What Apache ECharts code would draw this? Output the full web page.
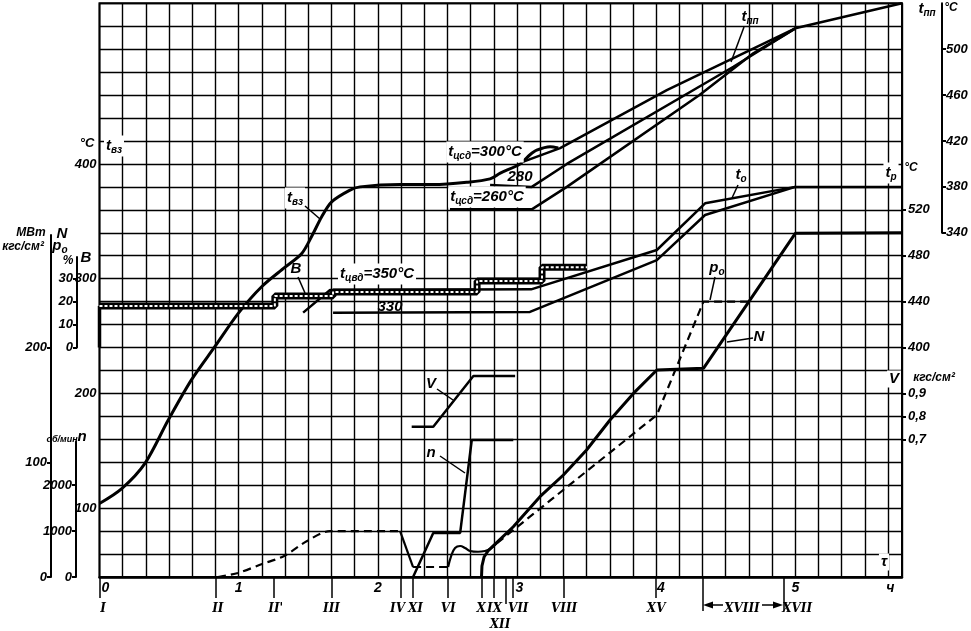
<!DOCTYPE html>
<html><head><meta charset="utf-8">
<script src="https://cdn.jsdelivr.net/npm/echarts@6/dist/echarts.min.js"></script>
<style>html,body{margin:0;padding:0;background:#fff}#c{width:971px;height:631px}</style>
</head><body><div id="c"></div>
<script>
// ---------- DATA (time in minutes from start) ----------
const hourLabels = ['0','1','2','3','4','5','ч'];
const hourLabelAt = [2.5,60,120,181,242,300,341];
const romanNames = ['I','II',"II'",'III','IV','XI','VI','X','IX','VII','VIII','XV','XVIII','XVII'];
const romanLabelAt = [1.5,51,76,100,128.5,136.2,150.3,164.5,170.3,180.5,200.3,240,277,300.8];
const romanTickAt = [0,50,75,100,130,135,150,165,170,178,200,240];
const romanLowNames = ['XII'];
const romanLowLabelAt = [172.7];
const romanLowTickAt = [175];
const bracketTickAt = [260,295];

// t_вз, °C
const tVzT = [0,9.6,19.6,29.7,39.7,49.8,59.9,69.9,80,87.2,91.5,95.8,100.1,107.8,112.3,129.6,144,158.3,168.4,172.8,181.3,185.6,188.5,194.3,197.8];
const tVzV = [104,117,139,177,212,241,270,293,310,322,337,354,367,377,380,382,382,384,387,392,400,408,412,415,414];
// t_пп, °C  (t_цсд = 300 / 280 / 260 °C)
const tPp300T = [182.2,198.6,244.6,300,346];
const tPp300V = [401.6,413.8,464.4,518.2,540];
const tPp280T = [168.4,186.4,201.5,273.3,300];
const tPp280V = [381.6,380,400,484.7,518.2];
const tPp260T = [151.1,186.4,201.5,258.7,281.9,300];
const tPp260V = [360.4,360.4,380,460,496.4,518.2];
// t_o, °C  (t_цвд = 350 / 330 °C)
const tO350T = [87.8,99.4,186.1,240.3,261.1,300,346];
const tO350V = [430.4,450.2,450.7,485,525.7,540,540];
const tO330T = [100.7,185.6,240.3,261.1,300];
const tO330V = [430.3,431,476.2,515.5,540];
// B, %
const bT = [0,75.6,75.6,100.7,100.7,162.8,162.8,190.8,190.8,210.2];
const bV = [18.1,18.1,22.4,22.4,24.2,24.2,29,29,35,35];
const bStartT = [0,0];
const bStartV = [0,18.1];
// V, кгс/см²
const vT = [134.6,143.9,161.2,179.2];
const vV = [0.755,0.755,0.976,0.976];
// n, об/мин
const nT = [135.2,143.9,155.5,160.5,178.4];
const nV = [0,960,960,2985,2985];
// p_o, кгс/см² (dashed / solid pieces)
const p1T = [51.1,59.7,70.1,79.6,89.5,99.4,128.7];
const p1V = [0,3.5,11.3,18.3,31.4,40,40];
const p2T = [129.6,135.2];
const p2V = [40,8.7];
const p3T = [135.2,150.3];
const p3V = [8.7,8.7];
const p4T = [150.3,151.6,153.3,155.5,157.6,159.8,163.2,166.2,168.4,171.4];
const p4V = [8.7,18.3,25.3,27,25.3,22.7,22,22.7,24.4,29.6];
const p5T = [171.4,240.3,260.4,280.5];
const p5V = [29.6,141.2,240,240];
// N, МВт
const NT = [164.7,164.9,165.8,167.5,178.4,189.9,200,210,220.1,230.2,240.3,260.4,300,346];
const NV = [0,9.6,17.4,22.7,43.8,70,88.9,110.7,136.8,160,180.4,181.9,299.5,300];

// axis tick labels
const tVzTicks = [100,200,300,400];
const tPpTicks = [340,380,420,460,500];
const tRTicks = [400,440,480,520];
const vTicks = [0.7,0.8,0.9];
const NTicks = [0,100,200];
const bTicks = [0,10,20,30];
const nTicks = [0,1000,2000];

// ---------- LAYOUT ----------
const GL=99.5, GT=3.3, GW=802.5, GH=573.7, GB=GT+GH, ROWH=GH/25;
const py = r => GB - r*ROWH;
const zip = (a,b) => a.map((t,i)=>[t,b[i]]);
const F = 'Liberation Sans';
const lab = {fontFamily:F, fontStyle:'italic', fontWeight:'bold', fontSize:13, color:'#000'};
const romanLab = {fontFamily:'DejaVu Serif', fontStyle:'italic', fontWeight:'bold', fontSize:12, color:'#000'};

function L(data, yi, w, extra){
  return Object.assign({type:'line', data, xAxisIndex:0, yAxisIndex:yi, symbol:'none', silent:true,
    lineStyle:{color:'#000', width:w}, z:3}, extra||{});
}
const dash = [8,5];

const rich = {
  i:{fontFamily:F, fontStyle:'italic', fontWeight:'bold', fontSize:15, fill:'#000'},
  s:{fontFamily:F, fontStyle:'italic', fontWeight:'bold', fontSize:10, fill:'#000', padding:[9,0,0,0]}
};
function T(text, x, y, bg, size){
  const st = {text, x:0, y:0, rich, align:'center', verticalAlign:'middle', fill:'#000',
    font:'italic bold '+(size||15)+'px '+F};
  if(bg){ st.backgroundColor='#fff'; st.padding=[1,2,1,2]; }
  return {type:'text', x, y, z:100, style:st, silent:true};
}
function Ln(x1,y1,x2,y2){ return {type:'line', z:100, shape:{x1,y1,x2,y2}, style:{stroke:'#000', lineWidth:1.5}, silent:true}; }

const hidX = i => ({type:'value', gridIndex:i, min:0, max:1, show:false});
const dispY = (gi, min, max, pos, ticks, fmt) => ({
  type:'value', gridIndex:gi, min, max, position:pos,
  axisLine:{show:true, onZero:false, lineStyle:{color:'#000', width:2}},
  axisTick:{show:true, customValues:ticks, length:4, lineStyle:{color:'#000', width:2}},
  axisLabel:Object.assign({customValues:ticks, margin:4, formatter:fmt||(v=>String(v))}, lab),
  splitLine:{show:false}
});
const romanX = (ticks, len, labels, labelAt, margin) => ({
  type:'value', gridIndex:0, min:0, max:346, position:'bottom',
  axisLine:{show:false, onZero:false}, splitLine:{show:false},
  axisTick:{show:true, customValues:ticks, length:len, lineStyle:{color:'#000', width:1.5}},
  axisLabel: labels ? Object.assign({customValues:labelAt, margin,
    formatter:v=>labels[labelAt.indexOf(v)]}, romanLab) : {show:false}
});

const option = {
  animation:false,
  backgroundColor:'#fff',
  grid:[
    {left:GL, top:GT, width:GW, height:GH, show:true, borderColor:'#000', borderWidth:2},
    {left:941, top:GT, width:1, height:py(15)-GT},
    {left:51, top:py(14.9), width:1, height:GB-py(14.9)},
    {left:77, top:py(13.95), width:1, height:py(10)-py(13.95)},
    {left:76, top:py(5.9), width:1, height:GB-py(5.9)}
  ],
  xAxis:[
    {type:'value', gridIndex:0, min:0, max:346, interval:10,
      axisLine:{show:true, onZero:false, lineStyle:{color:'#000', width:2.5}}, axisTick:{show:false},
      splitLine:{show:true, lineStyle:{color:'#000', width:1.4}},
      axisLabel:Object.assign({customValues:hourLabelAt, margin:4,
        formatter:v=>hourLabels[hourLabelAt.indexOf(v)]}, lab, {fontSize:14})},
    romanX(romanTickAt, 21, romanNames, romanLabelAt, 26),
    romanX(romanLowTickAt, 27, romanLowNames, romanLowLabelAt, 42),
    romanX(bracketTickAt, 34, null),
    hidX(1), hidX(2), hidX(3), hidX(4)
  ],
  yAxis:[
    {type:'value', gridIndex:0, min:0, max:25, interval:1, axisLine:{show:false, onZero:false}, axisTick:{show:false},
      axisLabel:{show:false}, splitLine:{show:true, lineStyle:{color:'#000', width:1.4}}},
    {type:'value', gridIndex:0, min:40, max:540, position:'left', axisLine:{show:false, onZero:false}, axisTick:{show:false},
      splitLine:{show:false}, axisLabel:Object.assign({customValues:tVzTicks, margin:3}, lab)},
    {type:'value', gridIndex:0, min:0, max:500, show:false, axisLine:{onZero:false}},
    {type:'value', gridIndex:0, min:-100, max:150, show:false, axisLine:{onZero:false}},
    {type:'value', gridIndex:0, min:0, max:12500, show:false, axisLine:{onZero:false}},
    {type:'value', gridIndex:0, min:40, max:540, show:false, axisLine:{onZero:false}},
    {type:'value', gridIndex:0, min:200, max:700, position:'right', axisLine:{show:false, onZero:false},
      axisTick:{show:true, customValues:tRTicks, length:4, lineStyle:{color:'#000', width:2}},
      splitLine:{show:false}, axisLabel:Object.assign({customValues:tRTicks, margin:6}, lab)},
    {type:'value', gridIndex:0, min:0.1, max:2.6, position:'right', axisLine:{show:false, onZero:false},
      axisTick:{show:true, customValues:vTicks, length:4, lineStyle:{color:'#000', width:2}},
      splitLine:{show:false}, axisLabel:Object.assign({customValues:vTicks, margin:6,
        formatter:v=>v.toFixed(1).replace('.',',')}, lab)},
    dispY(1, 340, 540, 'right', tPpTicks),
    dispY(2, 0, 298, 'left', NTicks),
    dispY(3, 0, 39.5, 'left', bTicks),
    dispY(4, 0, 2950, 'left', nTicks)
  ],
  series:[
    L(zip(bT,bV), 3, 7),
    L(zip(bT,bV), 3, 2, {lineStyle:{color:'#fff', width:2, type:[3,2]}, z:4}),
    L(zip(bStartT,bStartV), 3, 3.5),
    L(zip(tVzT,tVzV), 1, 3, {smooth:0.3}),
    L(zip(tPp300T,tPp300V), 5, 2.5),
    L(zip(tPp280T,tPp280V), 5, 2.5),
    L(zip(tPp260T,tPp260V), 5, 2.5),
    L(zip(tO350T,tO350V), 6, 2.5),
    L(zip(tO330T,tO330V), 6, 2.5),
    L(zip(vT,vV), 7, 2.5),
    L(zip(nT,nV), 4, 2.5),
    L(zip(p1T,p1V), 2, 2.2, {lineStyle:{color:'#000', width:2.2, type:dash}, smooth:0.3}),
    L(zip(p2T,p2V), 2, 2.2),
    L(zip(p3T,p3V), 2, 2.2, {lineStyle:{color:'#000', width:2.2, type:dash}}),
    L(zip(p4T,p4V), 2, 2.2, {smooth:0.4}),
    L(zip(p5T,p5V), 2, 2.2, {lineStyle:{color:'#000', width:2.2, type:dash}}),
    L(zip(NT,NV), 2, 3)
  ],
  graphic:[
    T('°C', 87, 143, false, 13),
    T('{i|t}{s|вз}', 114, 146, true),
    T('{i|t}{s|вз}', 295, 198, true),
    Ln(305,206,320,219),
    T('{i|B}', 296, 269, false),
    Ln(298,277,305,293),
    T('{i|t}{s|цвд}{i|=350°C}', 377, 274, true),
    T('{i|330}', 390, 307, false),
    T('{i|t}{s|цсд}{i|=300°C}', 485, 152, true),
    T('{i|280}', 520, 177, false),
    T('{i|t}{s|цсд}{i|=260°C}', 487, 197, true),
    T('{i|t}{s|пп}', 750, 17, false),
    Ln(744,27,731,62),
    T('{i|t}{s|o}', 741, 175, false),
    Ln(738,185,732,198),
    T('{i|p}{s|o}', 717, 268, false),
    Ln(715,277,710,300),
    T('{i|N}', 759, 337, false),
    Ln(753,338,727,342),
    T('{i|V}', 431, 384, false),
    Ln(437,389,453,400),
    T('{i|n}', 431, 453, false),
    Ln(440,456,465,473),
    T('{i|τ}', 884, 562, true),
    T('{i|t}{s|p}', 891, 173, true),
    T('°C', 911, 168, false, 12),
    T('{i|V}', 894, 379, true),
    T('кгс/см²', 934, 378, false, 12),
    T('{i|t}{s|пп}', 927, 9, false),
    T('°C', 951, 8, false, 12),
    T('МВт', 31, 233, false, 12),
    T('кгс/см²', 23, 247, false, 12),
    T('{i|N}', 62, 234, false),
    T('{i|p}{s|o}', 60, 246, false),
    T('%', 68, 261, false, 12),
    T('{i|В}', 86, 258, false),
    T('об/мин', 62, 440, false, 9),
    T('{i|n}', 82, 437, false),
    Ln(712,605,723,605),
    Ln(762,605,775,605),
    {type:'polygon', z:100, shape:{points:[[703,605],[713,601.5],[713,608.5]]}, style:{fill:'#000'}, silent:true},
    {type:'polygon', z:100, shape:{points:[[783,605],[773,601.5],[773,608.5]]}, style:{fill:'#000'}, silent:true}
  ]
};
const chart = echarts.init(document.getElementById('c'));
chart.setOption(option);
</script>
</body></html>
